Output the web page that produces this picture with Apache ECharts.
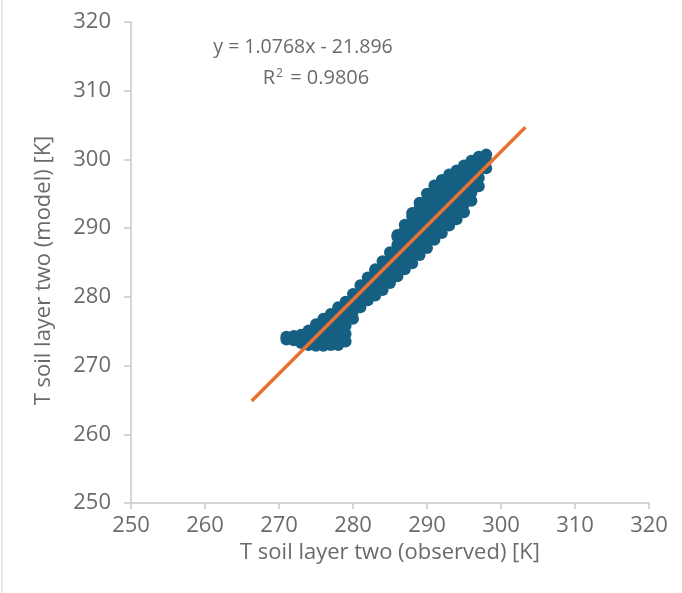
<!DOCTYPE html>
<html>
<head>
<meta charset="utf-8">
<script src="https://cdn.jsdelivr.net/npm/echarts@6/dist/echarts.min.js"></script>
<style>
html,body{margin:0;padding:0;background:#fff;}
#chart{width:682px;height:593px;}
</style>
</head>
<body>
<div id="chart"></div>
<script>
// Axis ticks
const xTicks = [250, 260, 270, 280, 290, 300, 310, 320];
const yTicks = [250, 260, 270, 280, 290, 300, 310, 320];

// Observed (x) columns and model (y) values
const cloudColumns = [
  [271, [273.8, 274.2]],
  [272, [273.7, 274.3]],
  [273, [273.3, 274.5]],
  [274, [273.0, 274.1, 275.1]],
  [275, [272.9, 274.0, 275.0, 276.0]],
  [276, [272.9, 274.0, 275.2, 276.3, 276.8]],
  [277, [273.0, 274.1, 275.3, 276.4, 277.5]],
  [278, [273.0, 274.2, 275.3, 276.5, 277.6, 278.5]],
  [279, [273.5, 274.6, 275.8, 277.0, 278.1, 279.3]],
  [280, [276.8, 277.9, 279.0, 280.4]],
  [281, [278.5, 279.6, 280.7, 281.7]],
  [282, [279.5, 280.6, 281.7, 282.8]],
  [283, [280.2, 281.3, 282.5, 283.6, 284.0]],
  [284, [281.0, 282.2, 283.3, 284.4, 285.2]],
  [285, [282.0, 283.2, 284.3, 285.4, 286.5]],
  [286, [283.0, 284.1, 285.3, 286.4, 287.6, 288.7, 289.0]],
  [287, [284.0, 285.2, 286.3, 287.5, 288.6, 289.7, 290.5]],
  [288, [284.9, 286.0, 287.2, 288.3, 289.5, 290.6, 291.7, 292.2]],
  [289, [286.1, 287.2, 288.4, 289.5, 290.7, 291.8, 292.9, 293.7]],
  [290, [287.1, 288.3, 289.4, 290.6, 291.7, 292.9, 294.0, 295.0]],
  [291, [288.3, 289.4, 290.6, 291.7, 292.9, 294.0, 295.1, 296.2]],
  [292, [289.3, 290.5, 291.6, 292.8, 293.9, 295.1, 296.2, 297.0]],
  [293, [290.4, 291.5, 292.7, 293.8, 295.0, 296.1, 297.2, 297.8]],
  [294, [291.3, 292.5, 293.6, 294.8, 295.9, 297.1, 298.2, 298.4]],
  [295, [292.3, 293.5, 294.6, 295.8, 296.9, 298.0, 299.1]],
  [296, [294.0, 295.2, 296.3, 297.5, 298.6, 299.8]],
  [297, [296.1, 297.3, 298.4, 299.5, 300.4]],
  [298, [298.7, 299.8, 300.7]]
];

// Trend line end points (observed, model)
const trendX = [266.3, 303.3];
const trendY = [264.85, 304.69];

const eqLine1 = 'y = 1.0768x - 21.896';
const eqR2 = '0.9806';

const cloud = [];
cloudColumns.forEach(function (c) {
  c[1].forEach(function (v) { cloud.push([c[0], v]); });
});
const trend = trendX.map(function (x, i) { return [x, trendY[i]]; });

const FONT = '"Open Sans", Lato, sans-serif';
const TXT = '#6b6b6b';

const chart = echarts.init(document.getElementById('chart'), null, {renderer: 'canvas'});
chart.setOption({
  animation: false,
  backgroundColor: '#ffffff',
  grid: {left: 131, right: 33, top: 22, bottom: 90},
  xAxis: {
    type: 'value', min: xTicks[0], max: xTicks[xTicks.length - 1], interval: 10,
    name: 'T soil layer two (observed) [K]', nameLocation: 'middle', nameGap: 35,
    nameTextStyle: {color: TXT, fontSize: 22, fontFamily: FONT},
    axisLine: {show: true, lineStyle: {color: '#c8c8c8', width: 1.5}},
    axisTick: {show: true, length: 6, lineStyle: {color: '#c8c8c8', width: 1.5}},
    axisLabel: {color: TXT, fontSize: 22, fontFamily: FONT, margin: 12},
    splitLine: {show: false}
  },
  yAxis: {
    type: 'value', min: yTicks[0], max: yTicks[yTicks.length - 1], interval: 10,
    name: 'T soil layer two (model) [K]', nameLocation: 'middle', nameGap: 76,
    nameTextStyle: {color: TXT, fontSize: 22, fontFamily: FONT, padding: [0, 16, 0, 0]},
    axisLine: {show: true, lineStyle: {color: '#c8c8c8', width: 1.5}},
    axisTick: {show: true, length: 7, lineStyle: {color: '#c8c8c8', width: 1.5}},
    axisLabel: {color: TXT, fontSize: 22, fontFamily: FONT, margin: 20},
    splitLine: {show: false}
  },
  graphic: [
    {type: 'line', shape: {x1: 2, y1: 0, x2: 2, y2: 593},
     style: {stroke: '#e4e4e4', lineWidth: 1.5}, silent: true},
    {type: 'text', x: 303, y: 47,
     style: {text: eqLine1, fill: TXT, font: '19.5px ' + FONT, textAlign: 'center', textVerticalAlign: 'middle'}},
    {type: 'text', x: 316, y: 78,
     style: {text: 'R{s|2} = ' + eqR2, fill: TXT, font: '20px ' + FONT, textAlign: 'center', textVerticalAlign: 'middle',
       rich: {s: {fontSize: 12, verticalAlign: 'top', fill: TXT, fontFamily: FONT, padding: [0, 2, 9, 1]}}}}
  ],
  series: [
    {type: 'scatter', data: cloud, symbol: 'circle', symbolSize: 12,
     itemStyle: {color: '#156082', opacity: 1}, z: 2},
    {type: 'line', data: trend, showSymbol: false, symbol: 'none',
     lineStyle: {color: '#E97132', width: 3.5}, z: 3}
  ]
});
</script>
</body>
</html>
